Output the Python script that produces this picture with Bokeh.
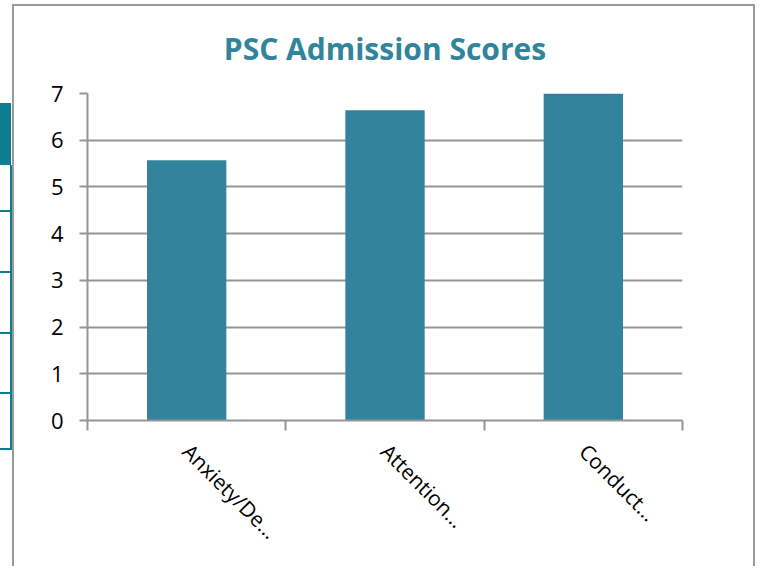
import math
from bokeh.plotting import figure
from bokeh.models import (Range1d, LinearAxis, FixedTicker,
                          CustomJSTickFormatter, ColumnDataSource)
from bokeh.embed import file_html
from bokeh.resources import INLINE

# ---- data ----
categories = ["Anxiety/De…", "Attention…", "Conduct…"]
scores = [5.57, 6.64, 7.0]
y_ticks = [0, 1, 2, 3, 4, 5, 6, 7]
title_text = "PSC Admission Scores"

TEAL = "#31849B"
GRID = "#959595"
FONT = "Open Sans"

n = len(categories)
centers = [i + 0.5 for i in range(n)]
src = ColumnDataSource(dict(x=centers, score=scores))

W, H = 760, 566
p = figure(width=W, height=H,
           x_range=Range1d(0, n),
           y_range=Range1d(0, len(y_ticks) - 1),
           output_backend="svg", toolbar_location=None,
           x_axis_location=None,
           min_border_left=87, min_border_right=W - 682,
           min_border_top=93, min_border_bottom=H - 420)

p.background_fill_color = "white"
p.border_fill_color = "white"
p.border_fill_alpha = 0
p.outline_line_color = None

# decorative slide frame drawn as CSS background behind the transparent canvas border
gray = "linear-gradient(#9a9a9a,#9a9a9a)"
teal = "linear-gradient(#0E7C91,#0E7C91)"
rects = [
    (gray, "12px 4px", "2px 700px"),
    (gray, "12px 4px", "743px 2px"),
    (gray, "753px 4px", "2px 700px"),
    (teal, "0px 103px", "11px 62px"),
    (teal, "10px 165px", "2px 285px"),
    (teal, "0px 210px", "11px 2px"),
    (teal, "0px 271px", "11px 2px"),
    (teal, "0px 332px", "11px 2px"),
    (teal, "0px 392px", "11px 2px"),
    (teal, "0px 448px", "11px 2px"),
]
p.styles = {
    "background-color": "white",
    "background-image": ", ".join(r[0] for r in rects),
    "background-position": ", ".join(r[1] for r in rects),
    "background-size": ", ".join(r[2] for r in rects),
    "background-repeat": "no-repeat",
}

p.title.text = title_text
p.title.align = "center"
p.title.text_font = FONT
p.title.text_font_size = "30px"
p.title.text_font_style = "bold"
p.title.text_color = TEAL
p.title.standoff = 50

p.vbar(x="x", top="score", width=0.4, source=src, fill_color=TEAL, line_color=None)

# y axis
p.yaxis.ticker = FixedTicker(ticks=y_ticks)
p.yaxis.axis_line_color = GRID
p.yaxis.axis_line_width = 2
p.yaxis.major_tick_line_color = GRID
p.yaxis.major_tick_line_width = 2
p.yaxis.major_tick_in = 0
p.yaxis.major_tick_out = 8
p.yaxis.minor_tick_line_color = None
p.yaxis.major_label_text_font = FONT
p.yaxis.major_label_text_font_size = "22px"
p.yaxis.major_label_text_color = "black"
p.yaxis.major_label_standoff = 16

p.ygrid.grid_line_color = GRID
p.ygrid.grid_line_width = 2
for g in p.xgrid:
    g.visible = False

# boundary tick axis (ticks between categories)
bound_axis = LinearAxis(ticker=FixedTicker(ticks=list(range(n + 1))),
                        formatter=CustomJSTickFormatter(code="return ''"),
                        axis_line_color=GRID, axis_line_width=2,
                        major_tick_line_color=GRID, major_tick_line_width=2,
                        major_tick_in=0, major_tick_out=10,
                        minor_tick_line_color=None, major_label_standoff=0)
p.add_layout(bound_axis, "below")

# category label axis
cat_axis = LinearAxis(ticker=FixedTicker(ticks=centers),
                      major_label_overrides={c: lab for c, lab in zip(centers, categories)},
                      axis_line_color=None, major_tick_line_color=None,
                      minor_tick_line_color=None,
                      major_label_orientation=-math.pi / 4,
                      major_label_text_font=FONT,
                      major_label_text_font_size="21px",
                      major_label_text_color="black",
                      major_label_standoff=11)
p.add_layout(cat_axis, "below")

open("out.html", "w").write(file_html(p, INLINE))
